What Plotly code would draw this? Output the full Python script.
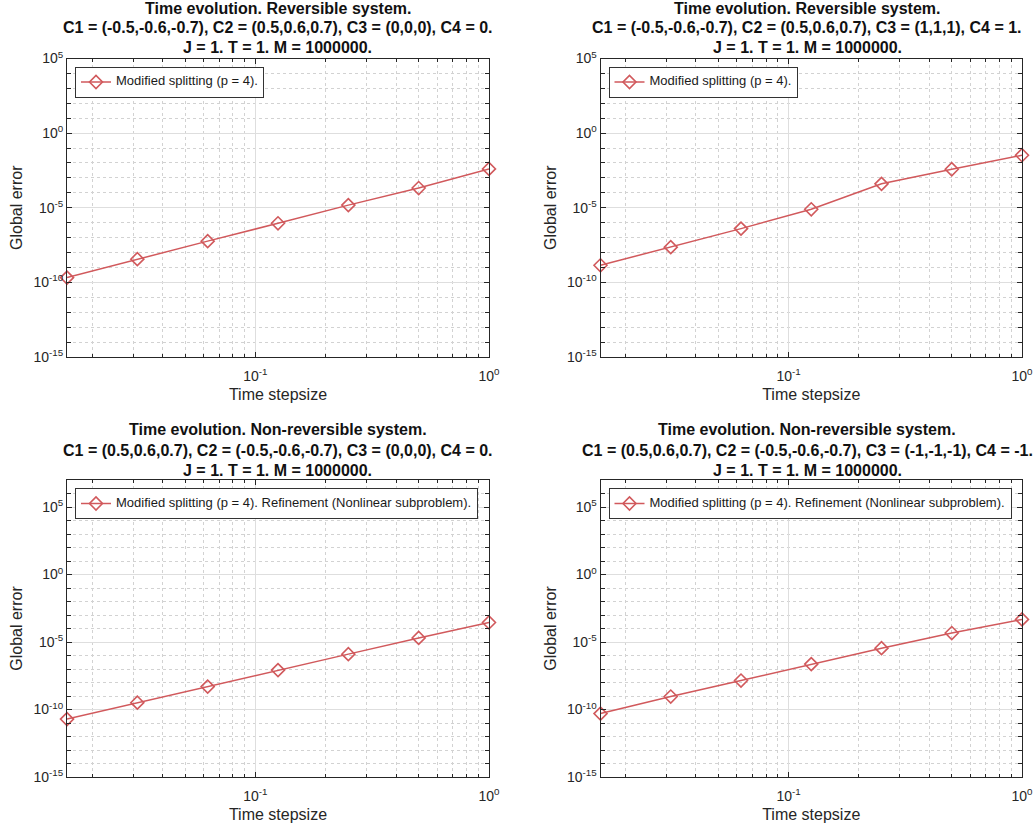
import plotly.graph_objects as go

# Time step sizes (h = 1/64 ... 1)
stepsize = [1/64, 1/32, 1/16, 1/8, 1/4, 1/2, 1]

# Global errors for each experiment
err_rev_c3zero = [2.1e-10, 3.6e-9, 5.8e-8, 9.1e-7, 1.5e-5, 2.1e-4, 4.0e-3]
err_rev_c3one = [1.4e-9, 2.3e-8, 4.0e-7, 7.9e-6, 4.0e-4, 3.8e-3, 3.3e-2]
err_nonrev_c3zero = [1.95e-11, 3.2e-10, 5.0e-9, 8.3e-8, 1.26e-6, 2.0e-5, 2.8e-4]
err_nonrev_c3neg = [5.0e-11, 9.1e-10, 1.4e-8, 2.3e-7, 3.5e-6, 4.6e-5, 4.7e-4]

titles = [
    ["Time evolution. Reversible system.",
     "C1 = (-0.5,-0.6,-0.7), C2 = (0.5,0.6,0.7), C3 = (0,0,0), C4 = 0.",
     "J = 1. T = 1. M = 1000000."],
    ["Time evolution. Reversible system.",
     "C1 = (-0.5,-0.6,-0.7), C2 = (0.5,0.6,0.7), C3 = (1,1,1), C4 = 1.",
     "J = 1. T = 1. M = 1000000."],
    ["Time evolution. Non-reversible system.",
     "C1 = (0.5,0.6,0.7), C2 = (-0.5,-0.6,-0.7), C3 = (0,0,0), C4 = 0.",
     "J = 1. T = 1. M = 1000000."],
    ["Time evolution. Non-reversible system.",
     "C1 = (0.5,0.6,0.7), C2 = (-0.5,-0.6,-0.7), C3 = (-1,-1,-1), C4 = -1.",
     "J = 1. T = 1. M = 1000000."],
]
legend_names = [
    "Modified splitting (p = 4).",
    "Modified splitting (p = 4).",
    "Modified splitting (p = 4). Refinement (Nonlinear subproblem).",
    "Modified splitting (p = 4). Refinement (Nonlinear subproblem).",
]
series = [err_rev_c3zero, err_rev_c3one, err_nonrev_c3zero, err_nonrev_c3neg]
y_top_exp = [5, 5, 7, 7]

x_labels = ["10<sup>-1</sup>", "10<sup>0</sup>"]
x_major = [0.1, 1]
y_major_exp = [-15, -10, -5, 0, 5]

W, H = 1036, 832
# axes boxes in pixels: (left, right, top, bottom)
boxes = [
    (67, 489, 58.5, 357),
    (600.5, 1022, 58.5, 357),
    (67, 489, 480, 777),
    (600.5, 1022, 480, 777),
]
# horizontal centre and vertical centres of the three title lines of each panel
title_cx = [277.5, 807, 277.5, 807]
title_rows = [
    (8.5, 28, 47.5),
    (8.5, 28, 47.5),
    (429.5, 450, 470),
    (429.5, 450, 470),
]

LINE_COLOR = "#d1595c"
AX_COLOR = "#262626"
FONT = "Liberation Sans, Arial, Helvetica, sans-serif"

fig = go.Figure()
layout = dict(
    template="none",
    width=W, height=H, margin=dict(l=0, r=0, t=0, b=0, autoexpand=False),
    paper_bgcolor="white", plot_bgcolor="white",
    font=dict(family=FONT, color=AX_COLOR),
    showlegend=True,
)
annotations = []

x_minor = [k * 10 ** e for e in (-2, -1) for k in range(2, 10)]

for i in range(4):
    l, r, t, b = boxes[i]
    xa = "xaxis" if i == 0 else f"xaxis{i+1}"
    ya = "yaxis" if i == 0 else f"yaxis{i+1}"
    xr = "x" if i == 0 else f"x{i+1}"
    yr = "y" if i == 0 else f"y{i+1}"
    lg = "legend" if i == 0 else f"legend{i+1}"

    fig.add_trace(go.Scatter(
        x=stepsize, y=series[i], mode="lines+markers",
        # legend font is kept small so the box stays compact; text drawn at 13px
        name=f'<span style="font-size:13px">{legend_names[i]}</span>',
        xaxis=xr, yaxis=yr, legend=lg,
        cliponaxis=False,
        line=dict(color=LINE_COLOR, width=1.5),
        marker=dict(symbol="diamond-open", size=10,
                    line=dict(color=LINE_COLOR, width=1.6)),
    ))

    top = y_top_exp[i]
    y_minor = [10.0 ** e for e in range(-15, top + 1)]
    y_vals = [10.0 ** e for e in y_major_exp if e <= top]
    y_text = [f"10<sup>{e}</sup>" for e in y_major_exp if e <= top]

    layout[xa] = dict(
        type="log", domain=[l / W, r / W],
        range=[-1.80618, 0], anchor=yr, automargin=False,
        tickmode="array", tickvals=x_major, ticktext=x_labels,
        ticks="inside", ticklen=5, tickcolor=AX_COLOR, tickwidth=1,
        ticklabelstandoff=6,
        showline=True, linecolor=AX_COLOR, linewidth=1, mirror="ticks",
        showgrid=True, gridcolor="#dedede", gridwidth=1,
        zeroline=False,
        tickfont=dict(size=14, color=AX_COLOR),
        title=dict(text="Time stepsize", font=dict(size=16, color=AX_COLOR), standoff=6),
        minor=dict(tickmode="array", tickvals=x_minor, ticks="inside", ticklen=3,
                   tickcolor=AX_COLOR, showgrid=True, gridcolor="#d2d2d2",
                   griddash="dot", gridwidth=1),
    )
    layout[ya] = dict(
        type="log", domain=[1 - b / H, 1 - t / H],
        range=[-15, top], anchor=xr, automargin=False,
        tickmode="array", tickvals=y_vals, ticktext=y_text,
        ticks="inside", ticklen=5, tickcolor=AX_COLOR, tickwidth=1,
        showline=True, linecolor=AX_COLOR, linewidth=1, mirror="ticks",
        showgrid=True, gridcolor="#dedede", gridwidth=1,
        zeroline=False,
        tickfont=dict(size=14, color=AX_COLOR),
        title=dict(text="Global error", font=dict(size=16, color=AX_COLOR), standoff=6),
        minor=dict(tickmode="array", tickvals=y_minor, ticks="inside", ticklen=4,
                   tickcolor=AX_COLOR, showgrid=True, gridcolor="#d2d2d2",
                   griddash="dot", gridwidth=1),
    )
    layout[lg] = dict(
        x=(l + 8) / W, y=1 - (t + 8) / H, xanchor="left", yanchor="top",
        bgcolor="white", bordercolor="#333333", borderwidth=1,
        font=dict(size=8, color="#1a1a1a", family=FONT),
        itemwidth=30, tracegroupgap=0,
    )

    for j, line in enumerate(titles[i]):
        annotations.append(dict(
            text=f"<b>{line}</b>", xref="paper", yref="paper",
            x=title_cx[i] / W, y=1 - title_rows[i][j] / H,
            xanchor="center", yanchor="middle",
            showarrow=False, font=dict(size=16, color="#111111", family=FONT),
        ))

layout["annotations"] = annotations
fig.update_layout(**layout)
fig.write_html("out.html")
